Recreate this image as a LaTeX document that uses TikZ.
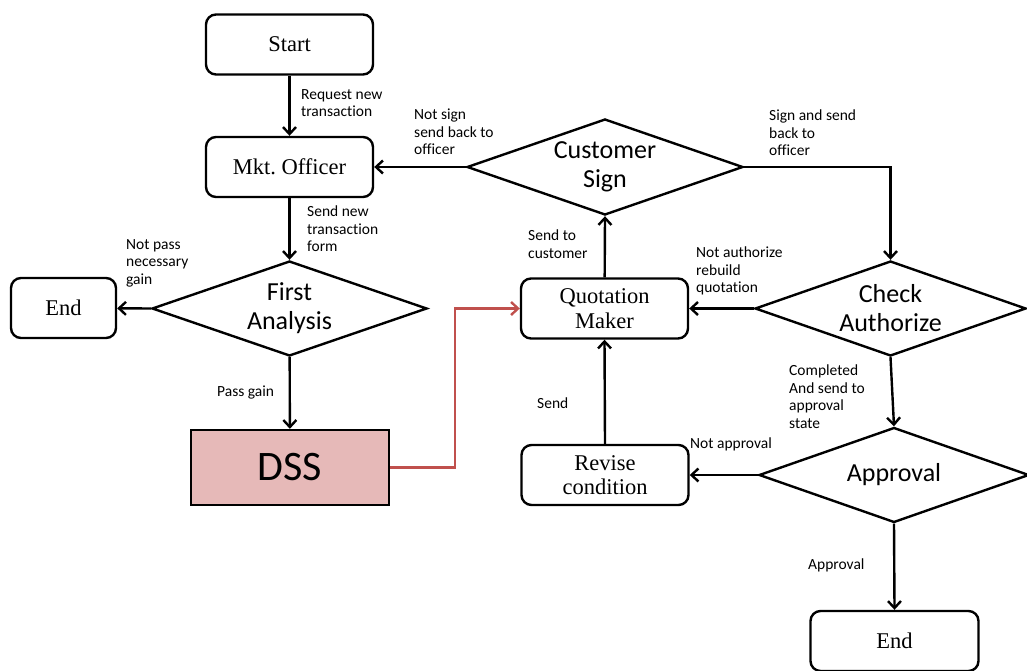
\documentclass[tikz,border=0pt]{standalone}
\usepackage{fontspec}
\setmainfont{Liberation Serif}
\newfontfamily\calfont[Ligatures=NoCommon]{Carlito}
\usetikzlibrary{shapes.geometric,arrows.meta}

\definecolor{dssfill}{HTML}{E6B9B8}
\definecolor{dssline}{HTML}{C0504D}

\begin{document}
\begin{tikzpicture}[x=1pt,y=-1pt,
  box/.style={draw, rounded corners=10pt, line width=2.4pt, minimum width=167pt,
    minimum height=60pt, inner sep=0pt, align=center,
    font=\fontsize{22.5}{24.5}\selectfont},
  dec/.style={draw, diamond, line width=2.4pt, inner sep=0pt,
    minimum width=274pt, minimum height=95pt,
    label={[align=center, font=\calfont\fontsize{26}{29}\selectfont]center:#1}},
  lbl/.style={anchor=north west, inner sep=0pt, align=left,
    font=\calfont\fontsize{15.5}{17.5}\selectfont},
  arr/.style={line width=2.4pt, -{Straight Barb[length=7pt,width=13pt]}},
]
\useasboundingbox (0,0) rectangle (1027,671);

% process boxes
\node[box] (start) at (289.5,44.5) {Start};
\node[box] (mkt) at (289.5,167) {Mkt.\ Officer};
\node[box, minimum width=105pt] (endl) at (63.5,308) {End};
\node[draw, line width=2.4pt, fill=dssfill, minimum width=198pt, minimum height=75pt,
      inner sep=0pt, font=\calfont\fontsize{42}{44}\selectfont] (dss) at (290,467.5) {DSS};
\node[box] (quot) at (604.5,308.5) {Quotation\\Maker};
\node[box] (rev) at (605,475) {Revise\\condition};
\node[box, minimum width=168pt] (endr) at (894.5,641) {End};

% decisions
\node[dec={First\\Analysis}, minimum width=275pt] (first) at (289.5,308.5) {};
\node[dec={Customer\\Sign}, minimum width=276pt, minimum height=96pt] (cust) at (605,167) {};
\node[dec={Check\\Authorize}, minimum width=271pt] (check) at (890.5,308.5) {};
\node[dec={Approval}, minimum width=270pt] (appr) at (894,475) {};

% bend point of the DSS link
\coordinate (bend) at (455,308.5);

% connectors
\draw[arr] (start) -- (mkt);
\draw[arr] (mkt) -- (first);
\draw[arr] (first.west) -- (endl);
\draw[arr] (first) -- (dss);
\draw[line width=2.4pt, dssline, -{Straight Barb[length=7pt,width=13pt]}]
  (dss.east) -| (bend) -- (quot.west);
\draw[arr] (quot) -- (cust.south);
\draw[arr] (cust.west) -- (mkt.east);
\draw[arr] (cust.east) -| (check.north);
\draw[arr] (check.west) -- (quot.east);
\draw[arr] (check.south) -- (appr.north);
\draw[arr] (appr.west) -- (rev.east);
\draw[arr] (rev.north) -- (quot.south);
\draw[arr] (appr.south) -- (endr.north);

% connector labels
\node[lbl] (l1) at (301,89) {Request new\\transaction};
\node[lbl] (l2) at (307,206) {Send new\\transaction\\form};
\node[lbl] (l3) at (126,239) {Not pass\\necessary\\gain};
\node[lbl] (l4) at (217,386) {Pass gain};
\node[lbl] (l5) at (414,109) {Not sign\\send back to\\officer};
\node[lbl] (l6) at (769,110) {Sign and send\\back to\\officer};
\node[lbl] (l7) at (528,230) {Send to\\customer};
\node[lbl] (l8) at (696,247) {Not authorize\\rebuild\\quotation};
\node[lbl] (l9) at (789,365) {Completed\\And send to\\approval\\state};
\node[lbl] (l10) at (537,398) {Send};
\node[lbl] (l11) at (690,438) {Not approval};
\node[lbl] (l12) at (808,559) {Approval};
\end{tikzpicture}
\end{document}
